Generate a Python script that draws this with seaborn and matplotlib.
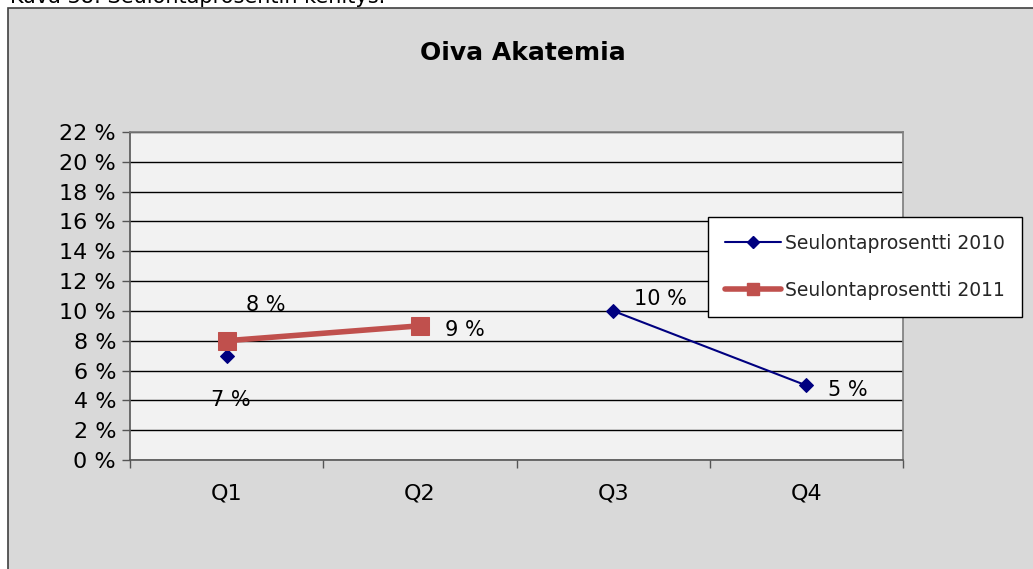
import numpy as np
import pandas as pd
import seaborn as sns
from matplotlib import pyplot as plt
from matplotlib.lines import Line2D
from matplotlib.patches import Rectangle

quarters = ["Q1", "Q2", "Q3", "Q4"]
rate_2010 = [7, None, 10, 5]
rate_2011 = [8, 9, None, None]
series_names = ["Seulontaprosentti 2010", "Seulontaprosentti 2011"]
y_ticks = list(range(0, 23, 2))

def to_frame(values, name):
    df = pd.DataFrame({"x": range(len(quarters)), "value": values})
    df = df.dropna()
    # break the line where a quarter is missing
    df["segment"] = (df["x"].diff() != 1).cumsum()
    df["series"] = name
    return df

df10 = to_frame(rate_2010, series_names[0])
df11 = to_frame(rate_2011, series_names[1])

sns.set_theme(style="white")
plt.rcParams["font.family"] = ["DejaVu Sans"]

fig = plt.figure(figsize=(10.33, 5.69), dpi=100)
W, H = 1033, 569
bg = Rectangle((8 / W, -0.1), 1.2, 1 - 8 / H + 0.1, transform=fig.transFigure,
               facecolor="#d9d9d9", edgecolor="#404040", linewidth=1.2, zorder=-10)
fig.add_artist(bg)
fig.text(10 / W, 1 - 3 / H, "Kuva 38: Seulontaprosentin kehitys.", fontsize=15, va="baseline", ha="left",
         color="black")

ax = fig.add_axes([130 / W, 1 - 460 / H, 773 / W, 328 / H])
ax.set_facecolor("#f2f2f2")

c10 = "#000080"
c11 = "#c0504d"
sns.lineplot(data=df10, x="x", y="value", units="segment", estimator=None, color=c10,
             linewidth=1.5, marker="D", markersize=7, markeredgecolor=c10, ax=ax, legend=False, zorder=3)
sns.lineplot(data=df11, x="x", y="value", units="segment", estimator=None, color=c11,
             linewidth=4, marker="s", markersize=13, markeredgecolor=c11, ax=ax, legend=False, zorder=4)

ax.set_xlim(-0.5, 3.5)
ax.set_ylim(0, 22)
ax.set_yticks(y_ticks)
ax.set_yticklabels([f"{t} %" for t in y_ticks], fontsize=16, color="black")
ax.set_xticks(np.arange(-0.5, 3.6, 1))
ax.set_xticklabels([])
ax.set_xticks(range(len(quarters)), minor=True)
ax.set_xticklabels(quarters, minor=True, fontsize=16, color="black")
ax.tick_params(axis="x", which="major", direction="out", length=6, width=1, color="#555555", bottom=True)
ax.tick_params(axis="x", which="minor", length=0, pad=17)
ax.tick_params(axis="y", direction="out", length=6, width=1, color="#555555", left=True, pad=4)
ax.grid(axis="y", color="black", linewidth=1)
ax.set_axisbelow(True)
ax.set_xlabel("")
ax.set_ylabel("")
for side in ["top", "right"]:
    ax.spines[side].set_color("#808080")
for side in ["left", "bottom"]:
    ax.spines[side].set_color("#555555")
    ax.spines[side].set_linewidth(1.2)

# data labels
ax.text(0.1, 10.0, "8 %", fontsize=15, color="black")
ax.text(-0.08, 3.6, "7 %", fontsize=15, color="black")
ax.text(1.13, 8.3, "9 %", fontsize=15, color="black")
ax.text(2.11, 10.4, "10 %", fontsize=15, color="black")
ax.text(3.11, 4.3, "5 %", fontsize=15, color="black")

fig.text(523 / W, 1 - 53 / H, "Oiva Akatemia", fontsize=18, fontweight="bold", ha="center", va="center",
         color="black")

handles = [
    Line2D([], [], color=c10, linewidth=1.5, marker="D", markersize=6),
    Line2D([], [], color=c11, linewidth=4, marker="s", markersize=8),
]
leg = fig.legend(handles, series_names, loc="upper left", bbox_to_anchor=(708 / W, 1 - 217 / H),
                 fontsize=13.5, frameon=True, fancybox=False, edgecolor="black", framealpha=1,
                 handlelength=3, handletextpad=0.2, labelspacing=1.5, borderpad=0.9, borderaxespad=0)
leg.get_frame().set_linewidth(1)

fig.savefig("out.png", dpi=100)
